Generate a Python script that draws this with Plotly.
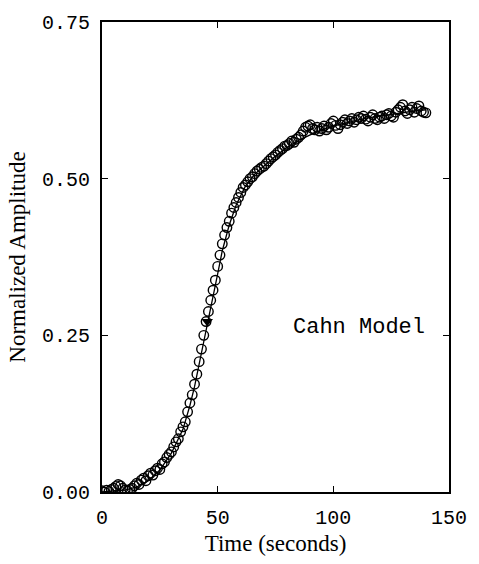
import plotly.graph_objects as go

# Measured data (open circles), time in seconds
time_s = list(range(0, 141))
amplitude = [
    0.002, 0.000, 0.003, 0.001, 0.004, 0.006, 0.009, 0.012, 0.010, 0.006,
    0.003, 0.002, 0.004, 0.006, 0.010, 0.014, 0.012, 0.019, 0.022, 0.018,
    0.026, 0.030, 0.027, 0.034, 0.038, 0.036, 0.045, 0.048, 0.055, 0.060,
    0.064, 0.072, 0.080, 0.085, 0.096, 0.104, 0.112, 0.128, 0.142, 0.155,
    0.172, 0.188, 0.208, 0.228, 0.250, 0.272, 0.288, 0.306, 0.322, 0.338,
    0.360, 0.378, 0.396, 0.410, 0.422, 0.432, 0.445, 0.454, 0.462, 0.470,
    0.478, 0.486, 0.490, 0.495, 0.500, 0.503, 0.508, 0.512, 0.515, 0.518,
    0.520, 0.524, 0.528, 0.532, 0.535, 0.538, 0.542, 0.545, 0.548, 0.552,
    0.553, 0.556, 0.560, 0.558, 0.563, 0.566, 0.570, 0.576, 0.582, 0.584,
    0.586, 0.580, 0.578, 0.582, 0.576, 0.580, 0.584, 0.578, 0.582, 0.588,
    0.592, 0.585, 0.580, 0.586, 0.590, 0.594, 0.588, 0.592, 0.596, 0.590,
    0.594, 0.598, 0.596, 0.600, 0.595, 0.592, 0.598, 0.602, 0.596, 0.594,
    0.598, 0.600, 0.596, 0.602, 0.604, 0.600, 0.598, 0.606, 0.610, 0.614,
    0.618, 0.608, 0.604, 0.610, 0.614, 0.606, 0.612, 0.616, 0.608, 0.606,
    0.605,
]

# Cahn model fit (solid line)
model_t = [0, 5, 10, 15, 20, 25, 30, 35, 38, 40, 42, 45, 48, 50, 52, 55, 58,
           62, 66, 70, 75, 80, 85, 90, 95, 100, 105, 110, 115, 120, 125, 130,
           135, 140]
model_v = [0.000, 0.001, 0.003, 0.008, 0.018, 0.035, 0.062, 0.100, 0.138,
           0.168, 0.203, 0.258, 0.313, 0.348, 0.385, 0.426, 0.458, 0.488,
           0.507, 0.520, 0.536, 0.550, 0.561, 0.570, 0.578, 0.584, 0.589,
           0.593, 0.597, 0.600, 0.603, 0.606, 0.608, 0.610]

# Filled arrow marker
arrow_t = [45.5]
arrow_v = [0.272]

x_ticks = [0, 50, 100, 150]
y_ticks = [0.0, 0.25, 0.5, 0.75]
y_labels = ["0.00", "0.25", "0.50", "0.75"]

fig = go.Figure()
fig.add_trace(go.Scatter(
    x=model_t, y=model_v, mode="lines",
    line=dict(color="black", width=1.3), showlegend=False))
fig.add_trace(go.Scatter(
    x=time_s, y=amplitude, mode="markers",
    marker=dict(symbol="circle-open", size=9.5, color="black",
                line=dict(color="black", width=1.4)),
    showlegend=False))
fig.add_trace(go.Scatter(
    x=arrow_t, y=arrow_v, mode="markers",
    marker=dict(symbol="triangle-down", size=10, color="black"),
    showlegend=False))

fig.add_annotation(x=111, y=0.262, xref="x", yref="y", text="Cahn Model",
                   showarrow=False,
                   font=dict(family="Liberation Mono", size=22, color="black"))

axis_common = dict(showgrid=False, zeroline=False, showline=True,
                   linecolor="black", linewidth=1.8, mirror="ticks",
                   ticks="inside", ticklen=6, tickwidth=1.2, tickcolor="black")

fig.update_xaxes(range=[0, 150], tickvals=x_ticks,
                 title=dict(text="Time (seconds)",
                            font=dict(family="Liberation Serif", size=23, color="black"),
                            standoff=6),
                 tickfont=dict(family="Liberation Mono", size=20, color="black"),
                 ticklabelstandoff=6,
                 **axis_common)
fig.update_yaxes(range=[0, 0.75], tickvals=y_ticks, ticktext=y_labels,
                 title=dict(text="Normalized Amplitude",
                            font=dict(family="Liberation Serif", size=23, color="black"),
                            standoff=10),
                 tickfont=dict(family="Liberation Mono", size=20, color="black"),
                 ticklabelstandoff=6,
                 **axis_common)

fig.update_layout(width=479, height=564,
                  margin=dict(l=102, r=22, t=14, b=70),
                  paper_bgcolor="white", plot_bgcolor="white")

fig.write_html("out.html")
